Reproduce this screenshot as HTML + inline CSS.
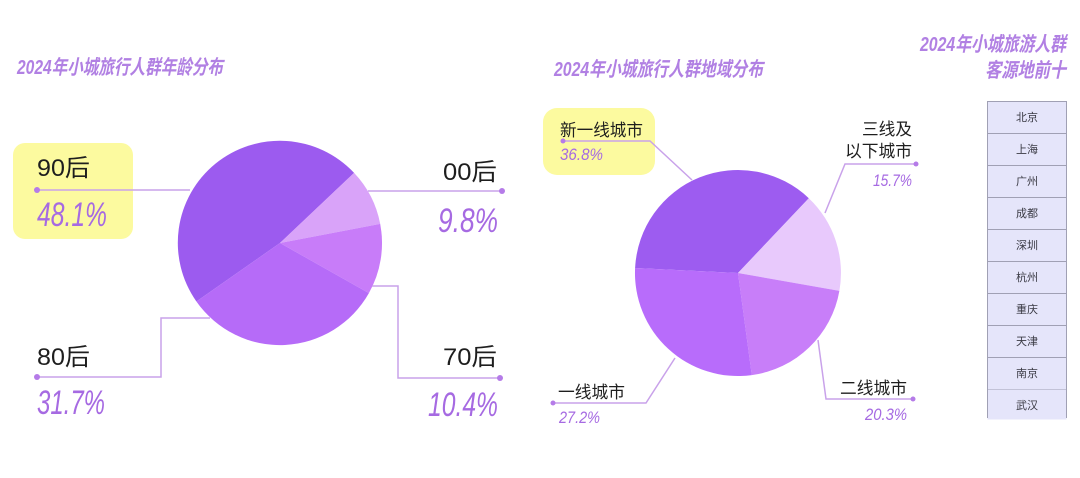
<!DOCTYPE html>
<html>
<head>
<meta charset="utf-8">
<style>
html,body{margin:0;padding:0;background:#fff;}
svg{display:block;}
.t{font-family:"Liberation Sans","Noto Sans CJK SC",sans-serif;}
</style>
</head>
<body>
<svg width="1080" height="478" viewBox="0 0 1080 478" xmlns="http://www.w3.org/2000/svg" class="t">
  <rect width="1080" height="478" fill="#ffffff"/>

  <!-- Titles -->
  <g font-family="Liberation Sans, Noto Sans CJK SC, sans-serif" font-weight="bold" font-style="italic" fill="#b180e3" font-size="20">
    <text x="17" y="74" textLength="206" lengthAdjust="spacingAndGlyphs">2024年小城旅行人群年龄分布</text>
    <text x="554" y="76" textLength="209" lengthAdjust="spacingAndGlyphs">2024年小城旅行人群地域分布</text>
    <text x="920" y="51" textLength="146" lengthAdjust="spacingAndGlyphs">2024年小城旅游人群</text>
    <text x="985" y="77" textLength="81" lengthAdjust="spacingAndGlyphs">客源地前十</text>
  </g>

  <!-- Left yellow highlight -->
  <rect x="13" y="143" width="120" height="96" rx="12" fill="#fcfa9f"/>

  <!-- Left pie -->
  <path d="M280,243 L354.1,172.9 A102,102 0 0 0 196.4,301.5 Z" fill="#9c5bef"/>
  <path d="M280,243 L380.2,223.9 A102,102 0 0 0 354.1,172.9 Z" fill="#d9a3f9"/>
  <path d="M280,243 L368.9,293.1 A102,102 0 0 0 380.2,223.9 Z" fill="#c87cf9"/>
  <path d="M280,243 L196.4,301.5 A102,102 0 0 0 368.9,293.1 Z" fill="#b66bf8"/>

  <!-- Left leader lines -->
  <g stroke="#c9a2ea" stroke-width="1.5" fill="none">
    <polyline points="37,190 190,190"/>
    <polyline points="368,191 502,191"/>
    <polyline points="210,318 161,318 161,377 37,377"/>
    <polyline points="372,286 398,286 398,378 500,378"/>
  </g>
  <g fill="#b57be8">
    <circle cx="37" cy="190" r="3"/>
    <circle cx="502" cy="191" r="3"/>
    <circle cx="37" cy="377" r="3"/>
    <circle cx="500" cy="378" r="3"/>
  </g>

  <!-- Left labels -->
  <g font-family="Liberation Sans, Noto Sans CJK SC, sans-serif" fill="#1e1e1e" font-size="24">
    <text x="37" y="176" textLength="53" lengthAdjust="spacingAndGlyphs">90后</text>
    <text x="443" y="180" textLength="54" lengthAdjust="spacingAndGlyphs">00后</text>
    <text x="37" y="365" textLength="53" lengthAdjust="spacingAndGlyphs">80后</text>
    <text x="443" y="365" textLength="54" lengthAdjust="spacingAndGlyphs">70后</text>
  </g>
  <g font-family="Liberation Sans, sans-serif" fill="#a66ae2" font-size="34" font-style="italic">
    <text x="37" y="226" textLength="70" lengthAdjust="spacingAndGlyphs">48.1%</text>
    <text x="438" y="232" textLength="60" lengthAdjust="spacingAndGlyphs">9.8%</text>
    <text x="37" y="414" textLength="68" lengthAdjust="spacingAndGlyphs">31.7%</text>
    <text x="428" y="416" textLength="70" lengthAdjust="spacingAndGlyphs">10.4%</text>
  </g>

  <!-- Middle yellow highlight -->
  <rect x="543" y="108" width="112" height="67" rx="14" fill="#fcfa9f"/>

  <!-- Middle pie -->
  <path d="M738,273 L808.8,198.2 A103,103 0 0 0 635.1,268 Z" fill="#9d5cf0"/>
  <path d="M738,273 L839.4,290.9 A103,103 0 0 0 808.8,198.2 Z" fill="#e8c9fc"/>
  <path d="M738,273 L751.8,375.1 A103,103 0 0 0 839.4,290.9 Z" fill="#c87ef9"/>
  <path d="M738,273 L635.1,268 A103,103 0 0 0 751.8,375.1 Z" fill="#b86cfb"/>

  <!-- Middle leader lines -->
  <g stroke="#c9a2ea" stroke-width="1.5" fill="none">
    <polyline points="563,141 650,141 692,180"/>
    <polyline points="916,164 845,164 825,213"/>
    <polyline points="818,340 826,399 913,399"/>
    <polyline points="553,403 646,403 675,358"/>
  </g>
  <g fill="#b57be8">
    <circle cx="563" cy="141" r="2.5"/>
    <circle cx="916" cy="164" r="2.5"/>
    <circle cx="913" cy="399" r="2.5"/>
    <circle cx="553" cy="403" r="2.5"/>
  </g>

  <!-- Middle labels -->
  <g font-family="Liberation Sans, Noto Sans CJK SC, sans-serif" fill="#1e1e1e" font-size="17">
    <text x="560" y="136" textLength="83" lengthAdjust="spacingAndGlyphs">新一线城市</text>
    <text x="862" y="135" textLength="50" lengthAdjust="spacingAndGlyphs">三线及</text>
    <text x="845" y="157" textLength="67" lengthAdjust="spacingAndGlyphs">以下城市</text>
    <text x="840" y="394" textLength="67" lengthAdjust="spacingAndGlyphs">二线城市</text>
    <text x="558" y="398" textLength="67" lengthAdjust="spacingAndGlyphs">一线城市</text>
  </g>
  <g font-family="Liberation Sans, sans-serif" fill="#a66ae2" font-size="17" font-style="italic">
    <text x="560" y="160" textLength="43" lengthAdjust="spacingAndGlyphs">36.8%</text>
    <text x="873" y="186" textLength="39" lengthAdjust="spacingAndGlyphs">15.7%</text>
    <text x="865" y="420" textLength="42" lengthAdjust="spacingAndGlyphs">20.3%</text>
    <text x="559" y="423" textLength="41" lengthAdjust="spacingAndGlyphs">27.2%</text>
  </g>

  <!-- Right table -->
  <g stroke="#a0a0b4" stroke-width="1" fill="#e5e5fa">
    <rect x="987.5" y="101.5" width="79" height="32"/>
    <rect x="987.5" y="133.5" width="79" height="32"/>
    <rect x="987.5" y="165.5" width="79" height="32"/>
    <rect x="987.5" y="197.5" width="79" height="32"/>
    <rect x="987.5" y="229.5" width="79" height="32"/>
    <rect x="987.5" y="261.5" width="79" height="32"/>
    <rect x="987.5" y="293.5" width="79" height="32"/>
    <rect x="987.5" y="325.5" width="79" height="32"/>
    <rect x="987.5" y="357.5" width="79" height="32"/>
  </g>
  <rect x="987.5" y="389.5" width="79" height="30" fill="#e5e5fa"/>
  <g stroke="#a0a0b4" stroke-width="1">
    <line x1="987.5" y1="389.5" x2="987.5" y2="418"/>
    <line x1="1066.5" y1="389.5" x2="1066.5" y2="418"/>
  </g>
  <g font-family="Liberation Sans, Noto Sans CJK SC, sans-serif" fill="#3a3a44" font-size="11" text-anchor="middle">
    <text x="1027" y="121">北京</text>
    <text x="1027" y="153">上海</text>
    <text x="1027" y="185">广州</text>
    <text x="1027" y="217">成都</text>
    <text x="1027" y="249">深圳</text>
    <text x="1027" y="281">杭州</text>
    <text x="1027" y="313">重庆</text>
    <text x="1027" y="345">天津</text>
    <text x="1027" y="377">南京</text>
    <text x="1027" y="409">武汉</text>
  </g>
</svg>
</body>
</html>
